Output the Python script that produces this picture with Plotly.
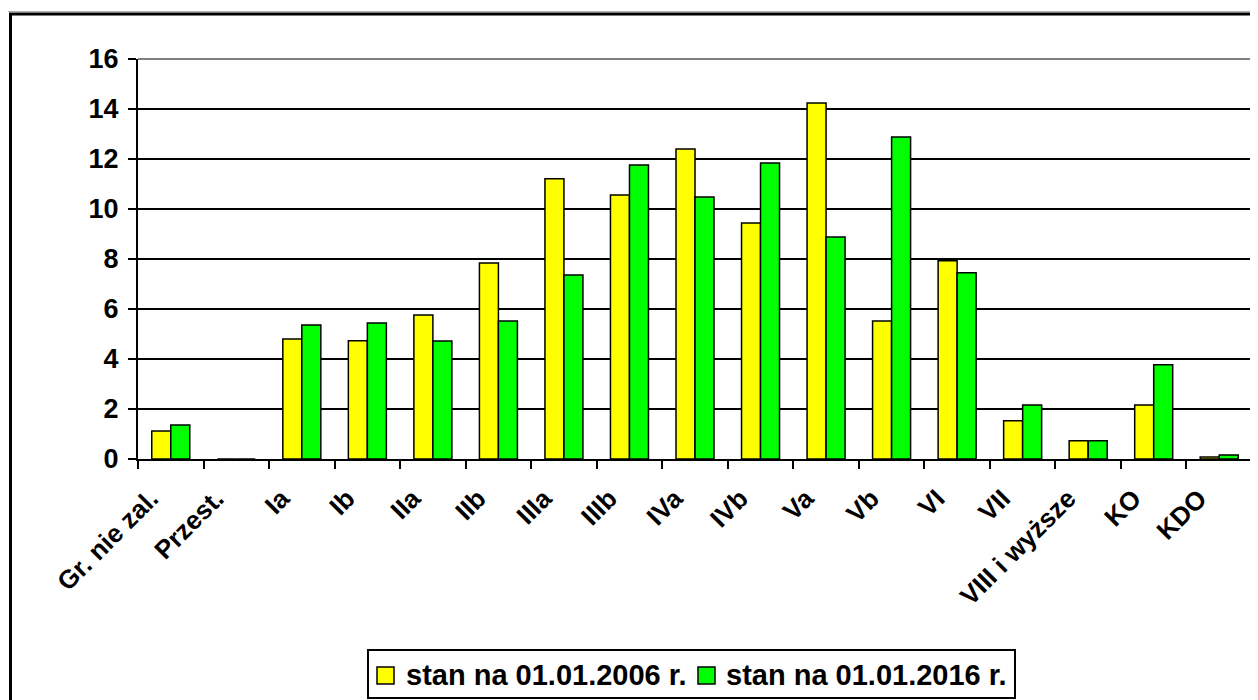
import plotly.graph_objects as go

categories = ["Gr. nie zal.", "Przest.", "Ia", "Ib", "IIa", "IIb", "IIIa", "IIIb", "IVa",
              "IVb", "Va", "Vb", "VI", "VII", "VIII i wyższe", "KO", "KDO"]
stan_2006 = [1.12, 0, 4.80, 4.73, 5.76, 7.84, 11.21, 10.56, 12.40, 9.44, 14.24, 5.52, 7.93,
             1.53, 0.73, 2.16, 0.08]
stan_2016 = [1.36, 0, 5.36, 5.44, 4.72, 5.52, 7.36, 11.76, 10.48, 11.84, 8.88, 12.88, 7.45,
             2.16, 0.73, 3.77, 0.16]
series_names = ["stan na 01.01.2006 r.", "stan na 01.01.2016 r."]
series_colors = ["#FFFF00", "#00FF00"]
y_ticks = [0, 2, 4, 6, 8, 10, 12, 14, 16]

FONT = "Liberation Sans, Arial, sans-serif"

fig = go.Figure()
for vals, name, col in zip([stan_2006, stan_2016], series_names, series_colors):
    fig.add_trace(go.Bar(x=categories, y=vals, name=name, showlegend=False,
                         marker=dict(color=col, line=dict(color="black", width=1.5))))

# page has an 8px body margin, so the figure is offset by 8px
OFF = 8
W, H = 1258 - OFF, 700 - OFF
L, T = 138 - OFF, 59 - OFF
pw, ph = 1114, 400
R, B = W - L - pw, H - T - ph


def px(x_page):
    return (x_page - 138) / pw


def py(y_page):
    return (459 - y_page) / ph


shapes = [
    # gray top and right border of the plot area
    dict(type="line", xref="paper", yref="paper", x0=0, x1=1, y0=1, y1=1,
         line=dict(color="#808080", width=2), layer="above"),
    dict(type="line", xref="paper", yref="paper", x0=1, x1=1, y0=0, y1=1,
         line=dict(color="#808080", width=2), layer="above"),
    # outer chart frame
    dict(type="line", xref="paper", yref="paper", x0=px(0), x1=px(1266),
         y0=py(11.5), y1=py(11.5), line=dict(color="#b0b0b0", width=1)),
    dict(type="rect", xref="paper", yref="paper", x0=px(10.5), x1=px(1266),
         y0=py(710), y1=py(14), line=dict(color="black", width=3)),
    # legend box
    dict(type="rect", xref="paper", yref="paper", x0=px(368), x1=px(1015),
         y0=py(698), y1=py(650), line=dict(color="black", width=2),
         fillcolor="white"),
]
annotations = []
legend_sym_x = [377, 698]
legend_txt_x = [404, 724]
for i, name in enumerate(series_names):
    shapes.append(dict(type="rect", xref="paper", yref="paper",
                       x0=px(legend_sym_x[i]), x1=px(legend_sym_x[i] + 17),
                       y0=py(684), y1=py(667), fillcolor=series_colors[i],
                       line=dict(color="black", width=1.5)))
    annotations.append(dict(xref="paper", yref="paper", x=px(legend_txt_x[i]), y=py(675),
                            xanchor="left", yanchor="middle", showarrow=False, text=name,
                            font=dict(size=29, family=FONT, color="black", weight="bold")))

fig.update_layout(
    width=W, height=H,
    margin=dict(l=L, r=R, t=T, b=B, autoexpand=False),
    paper_bgcolor="white", plot_bgcolor="white",
    barmode="group", bargap=0.42, bargroupgap=0,
    font=dict(family=FONT, color="black"),
    showlegend=False,
    xaxis=dict(type="category", tickson="boundaries", ticks="outside", ticklen=8,
               tickwidth=2, tickcolor="black", showline=True, linecolor="black",
               linewidth=2, showgrid=False, tickangle=-45,
               ticklabelshift=-20, ticklabelstandoff=12,
               tickfont=dict(size=26, family=FONT, color="black", weight="bold")),
    yaxis=dict(range=[0, 16], tickvals=y_ticks, ticks="outside", ticklen=8, tickwidth=2,
               tickcolor="black", showline=True, linecolor="black", linewidth=2,
               showgrid=True, gridcolor="black", gridwidth=2, zeroline=False,
               ticklabelstandoff=4,
               tickfont=dict(size=27, family=FONT, color="black", weight="bold")),
    shapes=shapes,
    annotations=annotations,
)

fig.write_html("out.html")
